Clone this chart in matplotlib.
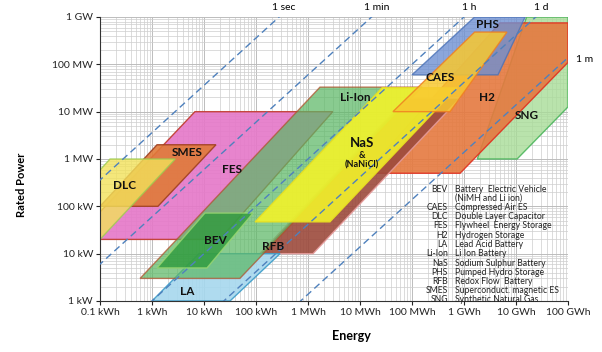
import numpy as np
import matplotlib.pyplot as plt
from matplotlib.patches import Polygon

plt.rcParams['font.family'] = ['Lato', 'DejaVu Sans']

# storage regions as outline vertices: energy (kWh), rated power (kW)
sng_E = [1.8e6, 1.05e7, 1e8, 1e8, 1.6e7]
sng_P = [1000, 1000, 1.26e4, 1e6, 1e6]
h2_E = [1.25e4, 8.4e5, 1e8, 1e8, 4.9e6]
h2_P = [500, 500, 1.1e5, 7.5e5, 7.5e5]
phs_E = [1e5, 4.5e6, 1.5e7, 1.6e6]
phs_P = [6e4, 6e4, 1e6, 1e6]
rfb_E = [119, 1250, 8.4e5, 8e4]
rfb_P = [10, 10, 1.95e4, 1.95e4]
fes_E = [0.1, 6.7, 3000, 20, 0.1]
fes_P = [76, 1e4, 1e4, 20, 20]
smes_E = [1.25, 17, 1.3, 0.1]
smes_P = [2000, 2000, 100, 100]
dlc_E = [0.1, 0.156, 2.8, 0.1]
dlc_P = [585, 1000, 1000, 20]
la_E = [1, 31.6, 290, 8]
la_P = [1, 1, 10, 10]
liion_E = [0.59, 49, 1.56e5, 1700]
liion_P = [3, 3, 3.3e4, 3.3e4]
bev_E = [1.25, 11.4, 87.5, 10.4]
bev_P = [5, 5, 72, 72]
nas_E = [96, 2640, 7.3e5, 2.66e4]
nas_P = [47, 47, 3.2e4, 3.2e4]
caes_E = [4.3e4, 5.4e5, 6.7e6, 1.6e6]
caes_P = [1e4, 1e4, 4.8e5, 4.8e5]

# discharge time lines (hours)
durations = [1/3600, 1/60, 1, 24, 720]
duration_labels = ['1 sec', '1 min', '1 h', '1 d', '1 m']

x_ticks = [0.1, 1, 10, 100, 1e3, 1e4, 1e5, 1e6, 1e7, 1e8]
x_labels = ['0.1 kWh', '1 kWh', '10 kWh', '100 kWh', '1 MWh', '10 MWh',
            '100 MWh', '1 GWh', '10 GWh', '100 GWh']
y_ticks = [1, 10, 100, 1e3, 1e4, 1e5, 1e6]
y_labels = ['1 kW', '10 kW', '100 kW', '1 MW', '10 MW', '100 MW', '1 GW']

legend_abbr = ['BEV', '', 'CAES', 'DLC', 'FES', 'H2', 'LA', 'Li-Ion', 'NaS',
               'PHS', 'RFB', 'SMES', 'SNG']
legend_text = ['Battery  Electric Vehicle', '(NiMH and Li ion)',
               'Compressed Air ES', 'Double Layer Capacitor',
               'Flywheel  Energy Storage', 'Hydrogen Storage',
               'Lead Acid Battery', 'Li Ion Battery', 'Sodium Sulphur Battery',
               'Pumped Hydro Storage', 'Redox Flow  Battery',
               'Superconduct. magnetic ES', 'Synthetic Natural Gas']

# drawing order back to front: (E, P, face, edge, alpha)
regions = [
    (sng_E, sng_P, '#a8dc98', '#3cb050', 0.8),
    (h2_E, h2_P, '#e5793f', '#e03020', 0.9),
    (phs_E, phs_P, '#6e90d2', '#4a72b8', 0.8),
    (rfb_E, rfb_P, '#9c4a3c', '#e59a9a', 0.9),
    (fes_E, fes_P, '#e577c8', '#c0392b', 0.9),
    (smes_E, smes_P, '#e07a38', '#a04020', 0.9),
    (dlc_E, dlc_P, '#f2e25a', '#9ccc50', 0.8),
    (la_E, la_P, '#a6d8ee', '#3c9cc8', 0.9),
    (liion_E, liion_P, '#5cb865', '#b0502a', 0.72),
    (bev_E, bev_P, '#2e9a3c', '#9ad870', 0.8),
    (nas_E, nas_P, '#f2f22a', '#e8e020', 0.9),
    (caes_E, caes_P, '#f8c830', '#f08020', 0.85),
]

fig = plt.figure(figsize=(6.02, 3.52), dpi=100)
ax = fig.add_axes([100/602, 1 - 301/352, 468/602, 284/352])
ax.set_xscale('log')
ax.set_yscale('log')
ax.set_xlim(0.1, 1e8)
ax.set_ylim(1, 1e6)

ax.grid(True, which='major', color='#bcbcbc', lw=0.7)
ax.grid(True, which='minor', color='#cecece', lw=0.5)
ax.set_axisbelow(True)

for E, P, face, edge, a in regions:
    pts = np.column_stack([E, P])
    ax.add_patch(Polygon(pts, closed=True, facecolor=face, edgecolor=edge,
                         alpha=a, lw=1.0, zorder=2))

p_line = np.array([0.1, 1e7])
for t, lab in zip(durations, duration_labels):
    ax.plot(p_line * t, p_line, color='#4f81bd', lw=1.0, ls=(0, (5, 3)), zorder=3)
    if lab == '1 m':
        ax.text(2.1e8, 1.24e5, lab, fontsize=7.5, ha='center', va='center',
                clip_on=False)
    else:
        ax.text(1e6 * t * 1.25, 1.6e6, lab, fontsize=7.5, ha='center',
                va='center', clip_on=False)

name_style = dict(fontweight='bold', color='#111111', ha='center', va='center',
                  zorder=5)
ax.text(0.30, 282, 'DLC', fontsize=8.5, **name_style)
ax.text(4.7, 1340, 'SMES', fontsize=8.5, **name_style)
ax.text(34.5, 586, 'FES', fontsize=8.5, **name_style)
ax.text(16.3, 19.4, 'BEV', fontsize=8.5, **name_style)
ax.text(4.7, 1.55, 'LA', fontsize=8.5, **name_style)
ax.text(212, 14.5, 'RFB', fontsize=8.5, **name_style)
ax.text(8000, 2.04e4, 'Li-Ion', fontsize=8.5, **name_style)
ax.text(1.1e4, 2180, 'NaS', fontsize=9.5, **name_style)
ax.text(1.1e4, 1160, '&', fontsize=6.5, **name_style)
ax.text(1.1e4, 747, '(NaNiCl)', fontsize=6.5, **name_style)
ax.text(3.45e5, 5.15e4, 'CAES', fontsize=8.5, **name_style)
ax.text(2.77e6, 6.8e5, 'PHS', fontsize=8.5, **name_style)
ax.text(2.77e6, 2.04e4, 'H2', fontsize=8.5, **name_style)
ax.text(1.6e7, 8500, 'SNG', fontsize=8.5, **name_style)

for i, (ab, txt) in enumerate(zip(legend_abbr, legend_text)):
    yy = (301 - 189 - i * 9.25) / 284
    ax.text((448 - 100) / 468, yy, ab, transform=ax.transAxes, fontsize=6.2,
            ha='right', va='center', color='#222222', zorder=5)
    ax.text((455 - 100) / 468, yy, txt, transform=ax.transAxes, fontsize=6.2,
            ha='left', va='center', color='#222222', zorder=5)

ax.set_xticks(x_ticks)
ax.set_xticklabels(x_labels)
ax.set_yticks(y_ticks)
ax.set_yticklabels(y_labels)
ax.tick_params(which='major', labelsize=7.5, length=3, width=0.8, pad=2,
               colors='#222222')
ax.tick_params(which='minor', length=0)
for s in ['top', 'right']:
    ax.spines[s].set_visible(False)
for s in ['left', 'bottom']:
    ax.spines[s].set_color('#333333')
    ax.spines[s].set_linewidth(0.8)

ax.set_xlabel('Energy', fontsize=9, fontweight='bold')
ax.xaxis.set_label_coords(0.538, -0.102)
ax.set_ylabel('Rated Power', fontsize=8, fontweight='bold')
ax.yaxis.set_label_coords(-0.156, 0.408)

fig.savefig('out.png', dpi=100)
